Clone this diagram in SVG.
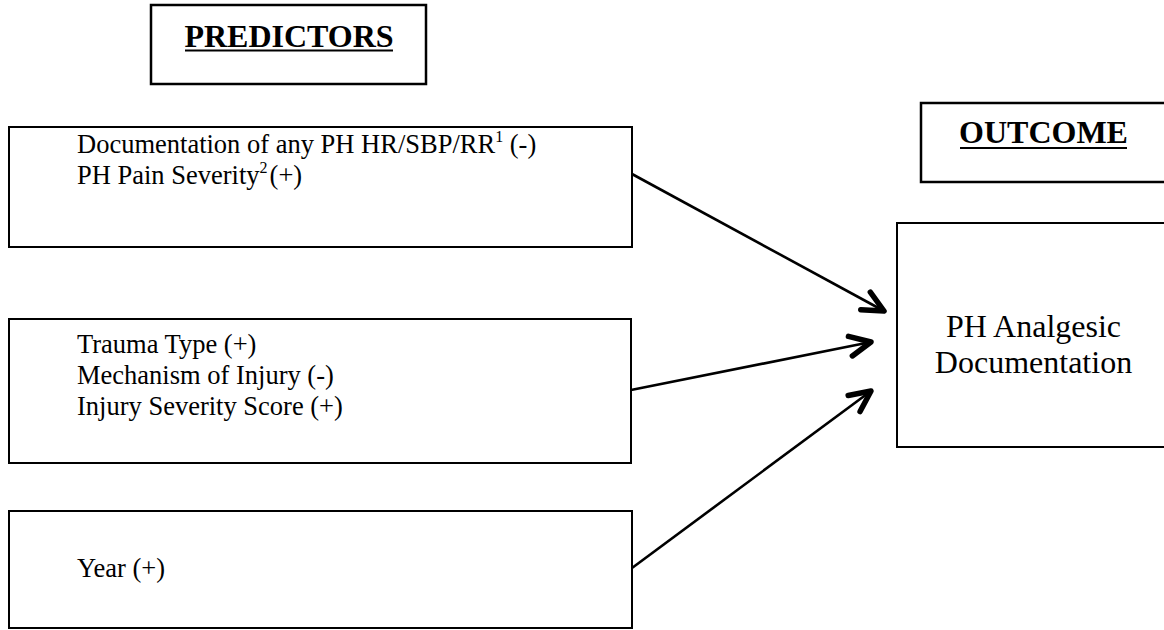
<svg xmlns="http://www.w3.org/2000/svg" width="1164" height="630" viewBox="0 0 1164 630">
  <style>
    .box { fill: #ffffff; stroke: #000000; stroke-width: 2; }
    .hdr { fill: #ffffff; stroke: #000000; stroke-width: 2.5; }
    .t { font-family: "Liberation Serif", "Times New Roman", serif; font-size: 26.5px; fill: #000000; }
    .big { font-family: "Liberation Serif", "Times New Roman", serif; font-size: 32px; fill: #000000; }
    .title { font-family: "Liberation Serif", "Times New Roman", serif; font-size: 32px; font-weight: bold; fill: #000000; }
    .ul { stroke: #000000; stroke-width: 1.8; }
    .sup { font-size: 16px; }
    .conn { stroke: #000000; stroke-width: 2.6; fill: none; }
  </style>
  <defs>
    <marker id="arrow" markerUnits="userSpaceOnUse" viewBox="-28 -16 34 32" refX="0" refY="0" markerWidth="34" markerHeight="32" orient="auto">
      <path d="M -21,-10 L 0,0 L -21,10" fill="none" stroke="#000000" stroke-width="5.5" stroke-linecap="round" stroke-linejoin="round"/>
    </marker>
  </defs>
  <rect x="0" y="0" width="1164" height="630" fill="#ffffff"/>

  <g id="predictors-header">
    <rect class="hdr" x="151" y="5" width="275" height="79"/>
    <text class="title" x="289" y="47" text-anchor="middle">PREDICTORS</text>
    <line class="ul" x1="185" y1="50.5" x2="393" y2="50.5"/>
  </g>

  <g id="outcome-header">
    <rect class="hdr" x="921" y="103" width="260" height="79"/>
    <text class="title" x="1043.5" y="143" text-anchor="middle">OUTCOME</text>
    <line class="ul" x1="960" y1="148" x2="1127" y2="148"/>
  </g>

  <g id="node-vitals">
    <rect class="box" x="9" y="127" width="623" height="120"/>
    <text class="t" x="77" y="153">Documentation of any PH HR/SBP/RR<tspan class="sup" dy="-11">1</tspan><tspan dy="11"> (-)</tspan></text>
    <text class="t" x="77" y="184">PH Pain Severity<tspan class="sup" dy="-11">2</tspan><tspan dy="11" dx="2">(+)</tspan></text>
  </g>

  <g id="node-trauma">
    <rect class="box" x="9" y="319" width="622" height="144"/>
    <text class="t" x="77" y="353">Trauma Type (+)</text>
    <text class="t" x="77" y="384">Mechanism of Injury (-)</text>
    <text class="t" x="77" y="415">Injury Severity Score (+)</text>
  </g>

  <g id="node-year">
    <rect class="box" x="9" y="511" width="623" height="117"/>
    <text class="t" x="77" y="577">Year (+)</text>
  </g>

  <g id="node-outcome">
    <rect class="box" x="897" y="223" width="280" height="224"/>
    <text class="big" x="1033.5" y="337" text-anchor="middle">PH Analgesic</text>
    <text class="big" x="1033.5" y="373" text-anchor="middle">Documentation</text>
  </g>

  <g id="connectors">
    <line class="conn" x1="632" y1="174" x2="884" y2="311" marker-end="url(#arrow)"/>
    <line class="conn" x1="631" y1="390" x2="871" y2="342" marker-end="url(#arrow)"/>
    <line class="conn" x1="632" y1="568" x2="871" y2="391" marker-end="url(#arrow)"/>
  </g>
</svg>
